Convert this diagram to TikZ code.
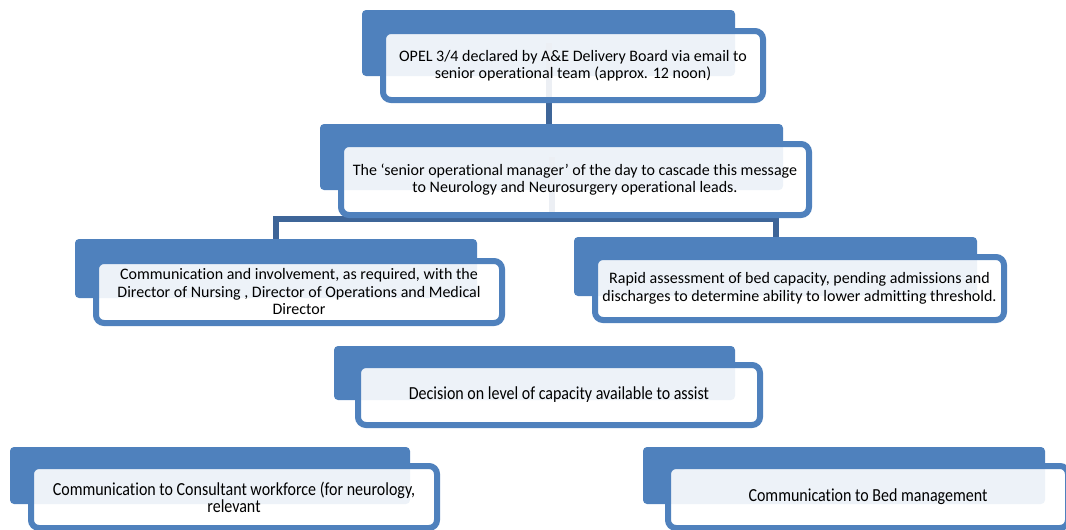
\documentclass[tikz,border=0pt]{standalone}
\usepackage{fontspec}
\setmainfont{Carlito}[Ligatures=NoCommon]
\newfontfamily\narrowfont{Carlito}[FakeStretch=0.87, Ligatures=NoCommon]
\usepackage{tikz}
\usetikzlibrary{positioning,calc}
\definecolor{boxblue}{RGB}{79,129,189}
\definecolor{linkblue}{RGB}{62,101,152}
\tikzset{every picture/.style={line width=0.75pt}}

\begin{document}
\begin{tikzpicture}[x=1pt, y=-1pt,
    backbox/.style={fill=boxblue, rounded corners=4pt, inner sep=0pt},
    frontbox/.style={draw=boxblue, line width=6pt, fill=white, fill opacity=0.9,
        text opacity=1, rounded corners=8pt, inner sep=0pt, align=center,
        font=\fontsize{16}{17.5}\selectfont},
    narrowtext/.style={font=\narrowfont\fontsize{18.4}{17}\selectfont},
    link/.style={draw=linkblue, line width=6pt}]
    \useasboundingbox (0,0) rectangle (1066,530);
    % blue cards behind
    \node[backbox, minimum width=373pt, minimum height=66pt] (opelbg) at (548.5,43) {};
    \node[backbox, minimum width=463pt, minimum height=66pt] (cascadebg) at (551.5,157) {};
    \node[backbox, minimum width=402pt, minimum height=59pt] (escalatebg) at (276,268.5) {};
    \node[backbox, minimum width=403pt, minimum height=59pt] (assessbg) at (775.5,266.5) {};
    \node[backbox, minimum width=401pt, minimum height=54pt] (decisionbg) at (534.5,373) {};
    \node[backbox, minimum width=400pt, minimum height=57pt] (consultbg) at (210,475.5) {};
    \node[backbox, minimum width=402pt, minimum height=57pt] (bedbg) at (844,475.5) {};
    % links
    \coordinate (fork) at ($(cascadebg.center)+(0,62)$);
    \draw[link] (opelbg.center) -- (opelbg.center |- cascadebg.north);
    \draw[link] (cascadebg.center) -- (fork);
    \draw[link] (escalatebg.north) |- (fork) -| (assessbg.north);
    % white cards with text
    \node[frontbox, minimum width=380pt, minimum height=69pt] (opel) at (573,65.5)
        {OPEL 3/4 declared by A\&E Delivery Board via email to\\senior operational team (approx. 12 noon)};
    \node[frontbox, minimum width=468pt, minimum height=71pt] (cascade) at (575,179.5)
        {The ‘senior operational manager’ of the day to cascade this message\\to Neurology and Neurosurgery operational leads.};
    \node[frontbox, minimum width=406pt, minimum height=62pt] (escalate) at (299,292)
        {Communication and involvement, as required, with the\\Director of Nursing , Director of Operations and Medical\\Director};
    \node[frontbox, minimum width=409pt, minimum height=63pt] (assess) at (799.5,288.5)
        {Rapid assessment of bed capacity, pending admissions and\\discharges to determine ability to lower admitting threshold.};
    \node[frontbox, narrowtext, minimum width=402pt, minimum height=60pt] (decision) at (559,395)
        {Decision on level of capacity available to assist};
    \node[frontbox, narrowtext, minimum width=406pt, minimum height=62pt] (consult) at (234,497)
        {Communication to Consultant workforce (for neurology,\\relevant};
    \node[frontbox, narrowtext, minimum width=400pt, minimum height=62pt] (bed) at (868,497)
        {Communication to Bed management};
\end{tikzpicture}
\end{document}
